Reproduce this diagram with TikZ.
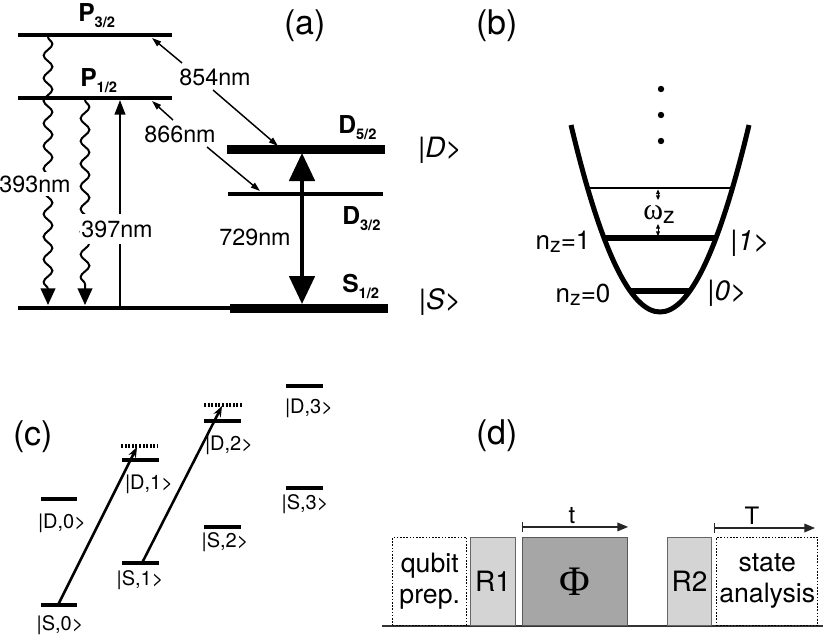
\documentclass[tikz,border=0pt]{standalone}
\usepackage{fontspec}
\setmainfont{TeX Gyre Heros}
\newfontfamily\grserif{Liberation Serif}
\usetikzlibrary{arrows.meta,decorations.pathmorphing}
\newcommand{\lvsub}[2]{#1\raisebox{-4.5pt}{\fontsize{11}{12}\selectfont #2}}
\begin{document}
\begin{tikzpicture}[x=0.75pt,y=-0.75pt,
  thinlvl/.style={line width=3pt},
  thicklvl/.style={line width=6.75pt},
  nmlbl/.style={inner sep=0pt, fill=white, font=\fontsize{17.5}{20}\selectfont},
  panellbl/.style={inner sep=0pt, font=\fontsize{25.5}{30}\selectfont},
  statelbl/.style={inner sep=0pt, font=\fontsize{21}{24}\selectfont\itshape},
  lvllbl/.style={inner sep=0pt, anchor=base west, font=\fontsize{18.5}{20}\selectfont\bfseries},
  wave/.style={line width=1.5pt, decorate, decoration={snake, segment length=17pt, amplitude=3.3pt}},
  emit/.style={line width=1.5pt, -{Triangle[length=12.5pt,width=11pt]}},
  pump/.style={line width=1.5pt, -{Triangle[length=11pt,width=8pt]}},
  thinarrow/.style={line width=1.1pt, -{Triangle[length=7pt,width=4.5pt]}},
  bigarrow/.style={line width=3pt, {Triangle[length=21pt,width=19pt]}-{Triangle[length=21pt,width=19pt]}},
  clvl/.style={line width=3pt},
  cdot/.style={line width=2.5pt, dash pattern=on 1.5pt off 1.2pt},
  clbl/.style={inner sep=0pt, font=\fontsize{15}{17}\selectfont},
  carrow/.style={line width=1.9pt, -{Stealth[length=8pt,width=6pt]}},
  blkbox/.style={anchor=south west, inner sep=0pt, minimum height=66pt, align=center},
  dotbox/.style={blkbox, draw=black, line width=1.1pt, dash pattern=on 1.2pt off 1.2pt, font=\fontsize{20}{23}\selectfont},
  rbox/.style={blkbox, draw=black!60, line width=0.8pt, fill=black!17, font=\fontsize{21}{24}\selectfont},
  phibox/.style={blkbox, draw=black!65, line width=0.8pt, fill=black!35},
  tarr/.style={line width=0.9pt, draw=black!85, {Bar[width=7pt,line width=0.9pt]}-{Triangle[length=8pt,width=6.5pt]}}
]
\useasboundingbox (0,0) rectangle (823,638);

%% ---------------- panel (a) ----------------
\node[panellbl] (pa) at (305,26) {(a)};
\coordinate (p3l) at (18,35);  \coordinate (p3r) at (172,35);
\coordinate (p1l) at (18,98);  \coordinate (p1r) at (172,98);
\coordinate (gl) at (18,308);  \coordinate (gm) at (230,308); \coordinate (gr) at (388,308);
\coordinate (d5l) at (227,149); \coordinate (d5r) at (385,149);
\coordinate (d3l) at (228,194); \coordinate (d3r) at (383,194);
\draw[thinlvl] (p3l) -- (p3r);
\draw[thinlvl] (p1l) -- (p1r);
\draw[thinlvl] (gl) -- (gm);
\draw[thicklvl] (gm) -- (gr);
\draw[thicklvl] (d5l) -- (d5r);
\draw[thinlvl] (d3l) -- (d3r);
\node[lvllbl] (lp3) at (78,22) {\lvsub{P}{3/2}};
\node[lvllbl] (lp1) at (80,87) {\lvsub{P}{1/2}};
\node[lvllbl] (ld5) at (338,133) {\lvsub{D}{5/2}};
\node[lvllbl] (ld3) at (342,224) {\lvsub{D}{3/2}};
\node[lvllbl] (ls1) at (342,292) {\lvsub{S}{1/2}};

% emissions
\coordinate (w393a) at (48,37);  \coordinate (w393b) at (48,290);
\coordinate (w393t) at (48,305);
\coordinate (w397a) at (85,100); \coordinate (w397b) at (85,290);
\coordinate (w397t) at (85,305);
\draw[wave] (w393a) -- (w393b);
\draw[emit] (w393b) -- (w393t);
\draw[wave] (w397a) -- (w397b);
\draw[emit] (w397b) -- (w397t);
% pump 397
\coordinate (p397a) at (120,306); \coordinate (p397b) at (120,100);
\draw[pump] (p397a) -- (p397b);
\node[nmlbl, inner ysep=3pt] (n393) at (35,184) {393nm};
\node[nmlbl, inner xsep=1pt, inner ysep=5pt] (n397) at (117,229) {397nm};

% repumpers
\node[nmlbl] (n854) at (215,77) {854nm};
\node[nmlbl] (n866) at (180,134) {866nm};
\coordinate (a854u) at (182,63); \coordinate (a854ut) at (152,38);
\coordinate (a854d) at (213,90); \coordinate (a854dt) at (278,146);
\coordinate (a866u) at (173,120); \coordinate (a866ut) at (152,101);
\coordinate (a866d) at (207,147); \coordinate (a866dt) at (260,191);
\draw[thinarrow] (a854u) -- (a854ut);
\draw[thinarrow] (a854d) -- (a854dt);
\draw[thinarrow] (a866u) -- (a866ut);
\draw[thinarrow] (a866d) -- (a866dt);

% 729
\coordinate (q1) at (302,153); \coordinate (q2) at (302,304);
\draw[bigarrow] (q1) -- (q2);
\node[nmlbl, fill=none] (n729) at (255,237) {729nm};

\node[statelbl] (ketD) at (440,150) {|D>};
\node[statelbl] (ketS) at (440,302) {|S>};

%% ---------------- panel (b) ----------------
\node[panellbl] (pb) at (497,26) {(b)};
\fill (661,89) circle (3.2);
\fill (661,115) circle (3.2);
\fill (661,141) circle (3.2);
\coordinate (parL) at (571,125); \coordinate (parR) at (749,125);
\draw[line width=3.75pt] (parL) .. controls (630.33,374.33) and (689.67,374.33) .. (parR);
\coordinate (b2l) at (588,188); \coordinate (b2r) at (732,188);
\coordinate (b1l) at (604,238); \coordinate (b1r) at (716,238);
\coordinate (b0l) at (630,291); \coordinate (b0r) at (690,291);
\draw[line width=1.6pt] (b2l) -- (b2r);
\draw[line width=3.9pt] (b1l) -- (b1r);
\draw[line width=3.9pt] (b0l) -- (b0r);
\coordinate (wa1) at (658,189.5); \coordinate (wa2) at (658,200);
\coordinate (wb1) at (658,224); \coordinate (wb2) at (658,236);
\draw[line width=0.7pt, {Triangle[length=3.5pt,width=3pt]}-{Triangle[length=3.5pt,width=3pt]}] (wa1) -- (wa2);
\draw[line width=0.7pt, {Triangle[length=3.5pt,width=3pt]}-{Triangle[length=3.5pt,width=3pt]}] (wb1) -- (wb2);
\node[inner sep=0pt, anchor=base west] (omz) at (643,219) {{\grserif\fontsize{22.5}{24}\selectfont ω}\raisebox{-3pt}{\fontsize{17.5}{19}\selectfont z}};
\node[inner sep=0pt, font=\fontsize{19.5}{21}\selectfont] (nz1) at (563,242) {n\raisebox{-2.5pt}{\fontsize{16}{18}\selectfont z}=1};
\node[inner sep=0pt, font=\fontsize{19.5}{21}\selectfont] (nz0) at (583,295) {n\raisebox{-2.5pt}{\fontsize{16}{18}\selectfont z}=0};
\node[statelbl] (ket1) at (750,243) {|1>};
\node[statelbl] (ket0) at (727,293) {|0>};

%% ---------------- panel (c) ----------------
\node[panellbl] (pc) at (33,437) {(c)};
\coordinate (s0l) at (41,605); \coordinate (s0r) at (77,605);
\coordinate (d0l) at (41,499); \coordinate (d0r) at (77,499);
\coordinate (s1l) at (122,563); \coordinate (s1r) at (159,563);
\coordinate (d1l) at (122,460); \coordinate (d1r) at (159,460);
\coordinate (s2l) at (204,527); \coordinate (s2r) at (241,527);
\coordinate (d2l) at (204,421); \coordinate (d2r) at (241,421);
\coordinate (s3l) at (286,488); \coordinate (s3r) at (323,488);
\coordinate (d3cl) at (286,386); \coordinate (d3cr) at (323,386);
\coordinate (v1l) at (121,446); \coordinate (v1r) at (158,446);
\coordinate (v2l) at (204,405); \coordinate (v2r) at (242,405);
\foreach \a/\b in {s0l/s0r,d0l/d0r,s1l/s1r,d1l/d1r,s2l/s2r,d2l/d2r,s3l/s3r,d3cl/d3cr}
  \draw[clvl] (\a) -- (\b);
\draw[cdot] (v1l) -- (v1r);
\draw[cdot] (v2l) -- (v2r);
\node[clbl] (ks0) at (60,625) {|S,0>};
\node[clbl] (kd0) at (62,523) {|D,0>};
\node[clbl] (ks1) at (140,580) {|S,1>};
\node[clbl] (kd1) at (149,484) {|D,1>};
\node[clbl] (ks2) at (225,542) {|S,2>};
\node[clbl] (kd2) at (229,445) {|D,2>};
\node[clbl] (ks3) at (305,504) {|S,3>};
\node[clbl] (kd3) at (309,408) {|D,3>};
\coordinate (c1a) at (58,605); \coordinate (c1b) at (137,447);
\coordinate (c2a) at (142,563); \coordinate (c2b) at (222,406);
\draw[carrow] (c1a) -- (c1b);
\draw[carrow] (c2a) -- (c2b);

%% ---------------- panel (d) ----------------
\node[panellbl] (pd) at (497,436) {(d)};
\coordinate (bl) at (382,626); \coordinate (br) at (823,626);
\draw[line width=1.3pt, black!80] (bl) -- (br);
\node[dotbox, minimum width=55.5pt] (qp) at (392,626) {qubit\\prep.};
\node[rbox, minimum width=33.75pt] (r1) at (470,626) {R1};
\node[phibox, minimum width=78.75pt, font={\grserif\fontsize{31.5}{34}\selectfont}] (phi) at (522,626) {Φ};
\node[rbox, minimum width=33pt] (r2) at (667,626) {R2};
\node[dotbox, minimum width=75.75pt] (sa) at (716,626) {state\\analysis};
\draw[tarr] ([yshift=7.5pt]phi.north west) -- ([yshift=7.5pt]phi.north east);
\coordinate (Ta) at (714,528); \coordinate (Tb) at (815,528);
\draw[tarr] (Ta) -- (Tb);
\node[inner sep=0pt, font=\fontsize{18}{20}\selectfont] (tl) at (572,516) {t};
\node[inner sep=0pt, font=\fontsize{18}{20}\selectfont] (Tl) at (752,516) {T};
\end{tikzpicture}
\end{document}
